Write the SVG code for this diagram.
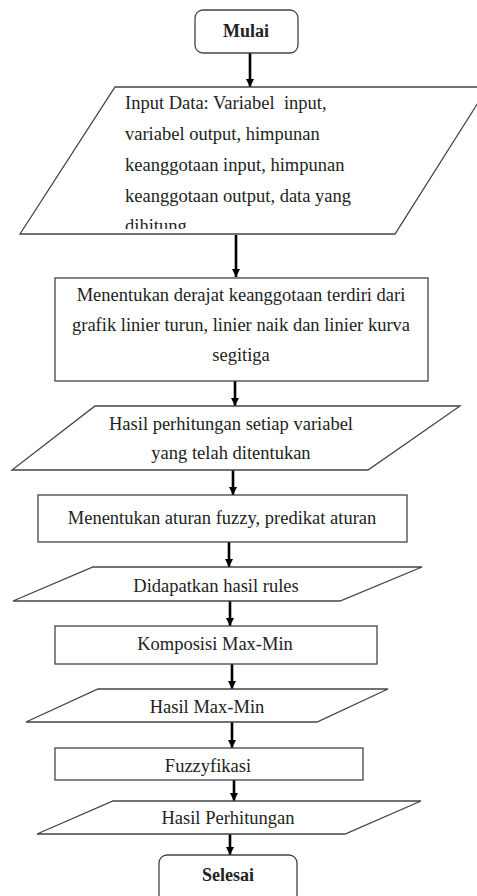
<svg xmlns="http://www.w3.org/2000/svg" width="477" height="896" viewBox="0 0 477 896">
<style>
.s{fill:#fff;stroke:#444;stroke-width:1.3}
.t{font-family:"Liberation Serif","Times New Roman",serif;font-size:18.5px;fill:#222}
.c{text-anchor:middle}
.b{font-weight:bold;font-size:18px}
.a{stroke:#000;stroke-width:2.6;fill:none}
</style>
<defs>
<marker id="ah" viewBox="0 0 10 10" refX="10" refY="5" markerWidth="3.2" markerHeight="3.4" orient="auto" markerUnits="strokeWidth">
<path d="M0,0 L10,5 L0,10 Z" fill="#000"/>
</marker>
<clipPath id="clip1"><rect x="0" y="87" width="477" height="142"/></clipPath>
</defs>
<rect width="477" height="896" fill="#fff"/>
<g id="connectors">
<line class="a" x1="250" y1="53" x2="250" y2="87" marker-end="url(#ah)"/>
<line class="a" x1="236" y1="235" x2="236" y2="277" marker-end="url(#ah)"/>
<line class="a" x1="235" y1="381" x2="235" y2="406" marker-end="url(#ah)"/>
<line class="a" x1="233" y1="470" x2="233" y2="495" marker-end="url(#ah)"/>
<line class="a" x1="229" y1="542" x2="229" y2="567" marker-end="url(#ah)"/>
<line class="a" x1="230" y1="601" x2="230" y2="626" marker-end="url(#ah)"/>
<line class="a" x1="232" y1="664" x2="232" y2="689" marker-end="url(#ah)"/>
<line class="a" x1="232" y1="722" x2="232" y2="748" marker-end="url(#ah)"/>
<line class="a" x1="234" y1="780" x2="234" y2="801" marker-end="url(#ah)"/>
<line class="a" x1="230" y1="834" x2="230" y2="855" marker-end="url(#ah)"/>
</g>
<g id="mulai">
<rect class="s" x="195" y="10" width="103" height="43" rx="8"/>
<text class="t c b" x="246" y="37">Mulai</text>
</g>
<g id="input">
<polygon class="s" points="115,87 488,87 395,234 20,234"/>
<g clip-path="url(#clip1)">
<text class="t" x="125" y="109" xml:space="preserve">Input Data: Variabel  input,</text>
<text class="t" x="125" y="140">variabel output, himpunan</text>
<text class="t" x="125" y="171">keanggotaan input, himpunan</text>
<text class="t" x="125" y="202">keanggotaan output, data yang</text>
<text class="t" x="125" y="232">dihitung</text>
</g>
</g>
<g id="derajat">
<rect class="s" x="55" y="278" width="373" height="103"/>
<text class="t c" x="241" y="301">Menentukan derajat keanggotaan terdiri dari</text>
<text class="t c" x="241" y="331">grafik linier turun, linier naik dan linier kurva</text>
<text class="t c" x="241" y="361">segitiga</text>
</g>
<g id="hasil-variabel">
<polygon class="s" points="95,406 460,406 368,470 12,470"/>
<text class="t c" x="231" y="430">Hasil perhitungan setiap variabel</text>
<text class="t c" x="231" y="459">yang telah ditentukan</text>
</g>
<g id="aturan">
<rect class="s" x="38" y="495" width="369" height="47"/>
<text class="t c" x="222" y="524">Menentukan aturan fuzzy, predikat aturan</text>
</g>
<g id="rules">
<polygon class="s" points="93,567 422,567 340,601 13,601"/>
<text class="t c" x="216" y="592">Didapatkan hasil rules</text>
</g>
<g id="komposisi">
<rect class="s" x="55" y="626" width="322" height="38"/>
<text class="t c" x="215" y="650">Komposisi Max-Min</text>
</g>
<g id="hasil-maxmin">
<polygon class="s" points="98,689 388,689 317,722 26,722"/>
<text class="t c" x="207" y="713">Hasil Max-Min</text>
</g>
<g id="fuzzyfikasi">
<rect class="s" x="55" y="748" width="308" height="32"/>
<text class="t c" x="208" y="772">Fuzzyfikasi</text>
</g>
<g id="hasil-perhitungan">
<polygon class="s" points="113,801 421,801 345,834 37,834"/>
<text class="t c" x="228" y="824">Hasil Perhitungan</text>
</g>
<g id="selesai">
<rect class="s" x="159" y="855" width="138" height="50" rx="8"/>
<text class="t c b" x="228" y="881">Selesai</text>
</g>
</svg>
